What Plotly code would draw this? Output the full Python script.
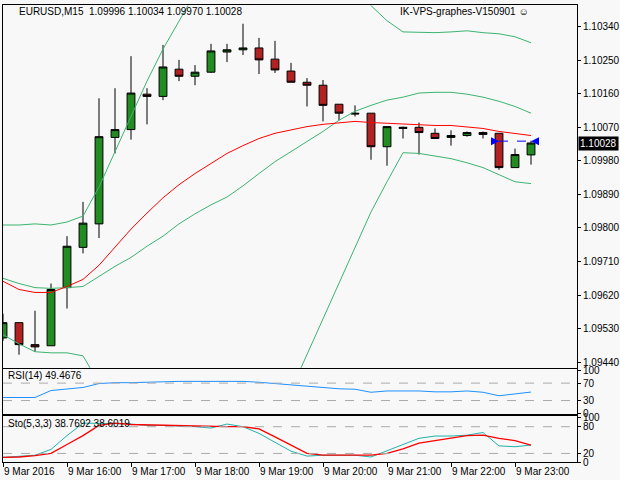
import plotly.graph_objects as go

opens  = [1.09505,1.09546,1.09487,1.09484,1.09640,1.09748,1.09811,1.10043,1.10064,1.10159,1.10153,1.10226,1.10207,1.10218,1.10272,1.10278,1.10283,1.10253,1.10221,1.10191,1.10183,1.10132,1.10108,1.10108,1.10018,1.10067,1.10070,1.10054,1.10043,1.10048,1.10056,1.10054,1.09962,1.09996]
highs  = [1.09570,1.09546,1.09578,1.09651,1.09778,1.09870,1.10148,1.10175,1.10261,1.10175,1.10291,1.10251,1.10237,1.10294,1.10294,1.10348,1.10310,1.10302,1.10243,1.10202,1.10197,1.10132,1.10129,1.10108,1.10072,1.10072,1.10083,1.10067,1.10062,1.10059,1.10059,1.10054,1.10013,1.10034]
lows   = [1.09497,1.09460,1.09468,1.09484,1.09584,1.09732,1.09773,1.10000,1.10037,1.10078,1.10143,1.10194,1.10183,1.10216,1.10245,1.10264,1.10213,1.10216,1.10191,1.10126,1.10086,1.10089,1.10099,1.09983,1.09967,1.10040,1.09997,1.10040,1.10021,1.10045,1.10040,1.09956,1.09962,1.09970]
closes = [1.09546,1.09487,1.09481,1.09635,1.09751,1.09813,1.10045,1.10064,1.10162,1.10153,1.10232,1.10207,1.10218,1.10275,1.10278,1.10283,1.10251,1.10224,1.10191,1.10183,1.10129,1.10108,1.10106,1.10018,1.10072,1.10070,1.10056,1.10040,1.10048,1.10056,1.10051,1.09962,1.09997,1.10028]
ma_red = [1.09657,1.09635,1.09627,1.09627,1.09643,1.09662,1.09700,1.09748,1.09797,1.09840,1.09881,1.09916,1.09946,1.09973,1.10000,1.10021,1.10040,1.10054,1.10064,1.10072,1.10078,1.10083,1.10086,1.10083,1.10081,1.10078,1.10078,1.10075,1.10075,1.10072,1.10067,1.10059,1.10054,1.10048]
bb_up  = [1.09808,1.09808,1.09811,1.09808,1.09816,1.09832,1.09910,1.10005,1.10099,1.10194,1.10280,1.10356,1.10437,1.10505,1.10545,1.10572,1.10586,1.10586,1.10572,1.10545,1.10518,1.10478,1.10437,1.10396,1.10356,1.10326,1.10324,1.10324,1.10326,1.10329,1.10324,1.10321,1.10313,1.10297]
bb_mid = [1.09665,1.09651,1.09640,1.09638,1.09640,1.09643,1.09670,1.09697,1.09721,1.09751,1.09778,1.09811,1.09838,1.09862,1.09883,1.09913,1.09946,1.09978,1.10005,1.10032,1.10059,1.10089,1.10113,1.10129,1.10143,1.10151,1.10162,1.10164,1.10164,1.10159,1.10151,1.10140,1.10126,1.10108]
bb_low = [1.09514,1.09489,1.09468,1.09465,1.09465,1.09457,1.09384,1.09303,1.09222,1.09168,1.09127,1.09100,1.09087,1.09082,1.09087,1.09114,1.09154,1.09222,1.09365,1.09460,1.09554,1.09649,1.09746,1.09843,1.09924,1.10002,1.10000,1.09994,1.09986,1.09975,1.09962,1.09943,1.09924,1.09919]
rsi    = [37,37,37,53,57,60,69,71,71,72,74,74,74,74,74,74,72,69,66,63,59,57,56,49,52,52,52,50,50,52,49,41,46,49.4676]
sto_k  = [11,13,16,29,60,88,88,87,86,83,83,82,80,77,86,80,65,45,25,14,16,16,16,12,26,40,54,59,59,61,67,37,35,38.7692]
sto_d  = [11,12,15,20,40,60,83,88,85,84,83,82,81,80,80,80,75,57,38,20,16,16,16,16,20,30,43,49,54,60,61,54,49,38.6019]
hour_idx = [0,4,8,12,16,20,24,28,32]
hour_labels = ["9 Mar 2016","9 Mar 16:00","9 Mar 17:00","9 Mar 18:00","9 Mar 19:00","9 Mar 20:00","9 Mar 21:00","9 Mar 22:00","9 Mar 23:00"]
price_ticks = [1.10340,1.10250,1.10160,1.10070,1.09980,1.09890,1.09800,1.09710,1.09620,1.09530,1.09440]
last_price = 1.10028
trade_idx = [31,33]
trade_price = [1.10033,1.10033]

x = list(range(len(opens)))
F = "Liberation Sans"
G = "#3cb371"
fig = go.Figure()
for arr in (bb_up, bb_mid, bb_low):
    fig.add_trace(go.Scatter(x=x, y=arr, mode="lines", line=dict(color=G, width=1)))
fig.add_trace(go.Scatter(x=x, y=ma_red, mode="lines", line=dict(color="red", width=1)))
fig.add_trace(go.Candlestick(x=x, open=opens, high=highs, low=lows, close=closes,
    increasing=dict(fillcolor="#228B22", line=dict(color="black", width=1)),
    decreasing=dict(fillcolor="#B22222", line=dict(color="black", width=1)),
    whiskerwidth=0))
fig.add_trace(go.Scatter(x=trade_idx, y=trade_price, mode="lines+markers",
    line=dict(color="blue", width=1, dash="dash"), marker=dict(symbol=["arrow-right","arrow-left"], size=8, color="blue")))
fig.add_trace(go.Scatter(x=x, y=rsi, mode="lines", line=dict(color="#1e90ff", width=1), xaxis="x2", yaxis="y2"))
fig.add_trace(go.Scatter(x=x, y=sto_k, mode="lines", line=dict(color="#20b2aa", width=1), xaxis="x3", yaxis="y3"))
fig.add_trace(go.Scatter(x=x, y=sto_d, mode="lines", line=dict(color="red", width=1.3), xaxis="x3", yaxis="y3"))

ax = dict(range=[0, 35.875], showgrid=False, zeroline=False, showline=True, linecolor="black", mirror=True,
          showticklabels=False, ticks="", fixedrange=True)
yax = dict(side="right", showgrid=False, zeroline=False, showline=True, linecolor="black", mirror=True,
           ticks="outside", ticklen=3, tickcolor="black", tickfont=dict(size=10, family=F))
fig.update_layout(
    width=620, height=480, showlegend=False, margin=dict(l=3, r=43, t=0, b=0),
    paper_bgcolor="#f8f8f8", plot_bgcolor="#f8f8f8", font=dict(family=F, size=10, color="black"),
    xaxis=dict(ax, anchor="y", rangeslider=dict(visible=False)),
    xaxis2=dict(ax, anchor="y2", matches="x"),
    xaxis3=dict(ax, anchor="y3", matches="x", tickvals=hour_idx, ticks="outside", ticklen=4, tickcolor="black"),
    yaxis=dict(yax, domain=[0.2277, 0.9969], range=[1.09425, 1.10397], tickvals=price_ticks,
               ticktext=[f"{v:.5f}" for v in price_ticks]),
    yaxis2=dict(yax, domain=[0.1294, 0.2256], range=[-1, 103], tickvals=[100,70,30,0]),
    yaxis3=dict(yax, domain=[0.0269, 0.1252], range=[0, 104], tickvals=[100,80,20,0]),
)
for yv, ref in [(70,"y2"),(30,"y2"),(80,"y3"),(20,"y3")]:
    fig.add_shape(type="line", xref="x", yref=ref, x0=0, x1=35.875, y0=yv, y1=yv,
                  line=dict(color="#aaaaaa", width=1, dash="dash"))
anns = [
    dict(x=0.024, y=0.985, text="EURUSD,M15  1.09996 1.10034 1.09970 1.10028", xanchor="left"),
    dict(x=0.92, y=0.985, text="IK-VPS-graphes-V150901 ☺", xanchor="right"),
    dict(x=0.006, y=0.211, text="RSI(14) 49.4676", xanchor="left"),
    dict(x=0.006, y=0.109, text="Sto(5,3,3) 38.7692 38.6019", xanchor="left"),
]
for a in anns:
    fig.add_annotation(xref="paper", yref="paper", yanchor="middle", showarrow=False, font=dict(size=10, family=F), **a)
for i, t in zip(hour_idx, hour_labels):
    fig.add_annotation(xref="x3", yref="paper", x=i, y=0.008, text=t, xanchor="left", yanchor="middle",
                       showarrow=False, xshift=-1, font=dict(size=10, family=F))
fig.add_annotation(xref="paper", yref="y", x=1.0, y=last_price, text=f"{last_price:.5f}", xanchor="left", xshift=1,
                   showarrow=False, bgcolor="black", font=dict(color="white", size=10, family=F), borderpad=1)
fig.write_html("out.html", config={"displayModeBar": False})
with open("out.html", encoding="utf-8") as f:
    html = f.read()
html = html.replace("<body>", '<body style="margin:0;background:#f8f8f8">', 1)
with open("out.html", "w", encoding="utf-8") as f:
    f.write(html)
